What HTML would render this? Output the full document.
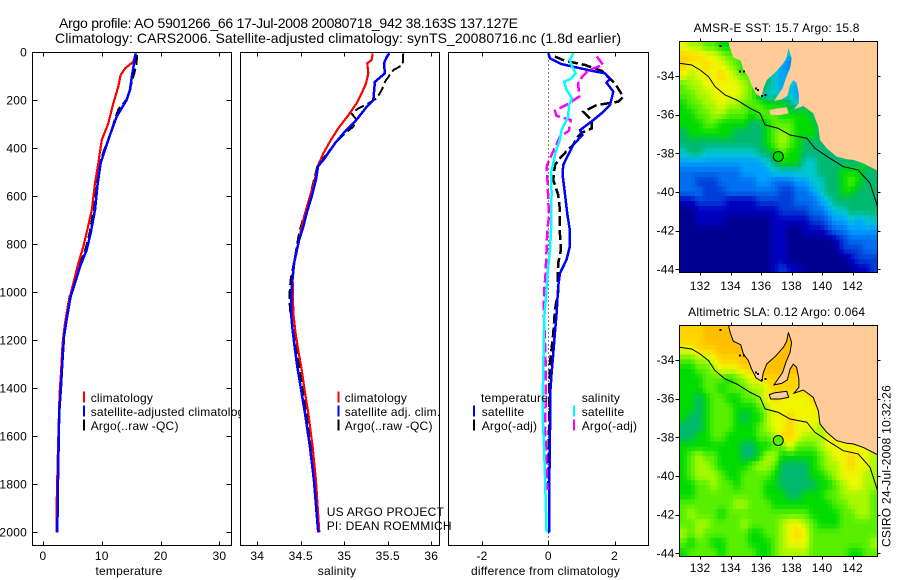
<!DOCTYPE html>
<html>
<head>
<meta charset="utf-8">
<title>Argo profile</title>
<style>
html,body{margin:0;padding:0;background:#fff;width:900px;height:580px;overflow:hidden}
svg{display:block;position:absolute;left:0;top:0}
text{font-family:"Liberation Sans",sans-serif;font-size:12px;fill:#000;letter-spacing:.22px}
.ax{stroke:#000;stroke-width:1;fill:none;shape-rendering:crispEdges}
.t{font-size:14px;letter-spacing:0}
</style>
</head>
<body>
<svg id="chart" width="900" height="580" viewBox="0 0 900 580">
<text class="t" x="59" y="28" textLength="459">Argo profile: AO 5901266_66 17-Jul-2008 20080718_942 38.163S 137.127E</text>
<text class="t" x="55" y="43" textLength="566">Climatology: CARS2006. Satellite-adjusted climatology: synTS_20080716.nc (1.8d earlier)</text>
<text x="0" y="0" transform="translate(890.5,547) rotate(-90)" textLength="162">CSIRO 24-Jul-2008 10:32:26</text>
</svg>
<script>
// ---------- profile data (depth in m) ----------
const depthTicks = [0,200,400,600,800,1000,1200,1400,1600,1800,2000];
const tempTicks = [0,10,20,30];
const salTicks = [34,34.5,35,35.5,36];
const diffTicks = [-2,0,2];

const tempClimDepth = [4,39,67,95,143,213,296,365,462,546,657,740,810,880,962,1046,1129,1212,1337,1393,1460,1700,1880,2000];
const tempClimValues = [15.76,15.36,13.95,13.2,12.8,11.96,11.1,10,9.4,8.84,8.3,7.54,6.86,6.01,5.16,4.31,3.74,3.34,3.06,2.89,2.78,2.5,2.33,2.33];
const tempSatDepth = [4,102,157,199,268,344,407,462,546,657,754,823,893,948,1018,1115,1184,1296,1393,1503,1643,1782,2000];
const tempSatValues = [15.76,15.1,14.8,14.2,12.53,11.4,10.54,9.8,9.3,8.84,8.1,7.43,6.29,5.61,4.7,4.02,3.57,3.29,3.06,2.75,2.65,2.55,2.44];
const tempArgoDepth = [11,53,143,196,236,265,344,407,462,546,657,754,823,893,948,1018,1115,1184,1296,1393,1503,1643,1782,1990];
const tempArgoValues = [16,15.9,14.9,14.25,12.85,12.4,11.4,10.4,9.6,9.1,8.6,7.9,7.2,6.1,5.4,4.5,3.85,3.45,3.2,2.95,2.7,2.55,2.5,2.4];

const salClimDepth = [4,32,46,88,130,171,213,261,317,372,421,470,532,601,671,726,782,851,948,1087,1171,1240,1323,1400,1504,1643,1782,2000];
const salClimValues = [35.326,35.314,35.264,35.276,35.249,35.2,35.14,35.05,34.93,34.835,34.76,34.7,34.66,34.605,34.55,34.51,34.48,34.433,34.406,34.414,34.44,34.47,34.51,34.54,34.586,34.636,34.674,34.713];
const salSatDepth = [4,18,46,88,123,199,227,289,330,379,449,473,532,601,671,726,782,879,976,1087,1157,1240,1309,1393,1504,1643,1782,2000];
const salSatValues = [35.517,35.49,35.456,35.467,35.352,35.333,35.257,35.123,35.008,34.893,34.759,34.7,34.674,34.625,34.567,34.53,34.48,34.422,34.395,34.387,34.406,34.433,34.46,34.498,34.548,34.605,34.651,34.7];
const salArgoDepth = [4,53,74,123,157,192,213,234,255,282,310,338,379,442,476,532,601,671,726,768,851,948,1018,1073,1157,1240,1323,1393,1504,1643,1782,1976];
const salArgoValues = [35.678,35.67,35.563,35.467,35.43,35.372,35.276,35.16,35.084,35.142,35.103,35.008,34.893,34.759,34.69,34.651,34.605,34.548,34.5,34.472,34.433,34.383,34.368,34.376,34.414,34.452,34.49,34.52,34.567,34.617,34.663,34.7];

const diffTempSatDepth = [4,25,49,60,77,88,109,127,164,220,248,282,324,345,386,428,470,511,588,671,740,809,865,921,976,1087,1171,1254,1337,1434,1573,1800,2000];
const diffTempSatValues = [0,0.05,0.4,0.75,1.31,1.71,1.86,1.76,1.96,1.86,1.66,1.36,0.96,1.03,0.75,0.6,0.45,0.43,0.5,0.57,0.65,0.65,0.55,0.35,0.3,0.25,0.2,0.15,0.1,0.05,0.05,0.03,0.03];
const diffTempArgoDepth = [18,35,53,77,129,185,206,220,248,282,317,335,358,386,404,442,470,532,594,657,706,754,823,879,934,997,1073,1171,1254,1296,1434,1573,1800];
const diffTempArgoValues = [0.2,0.5,1.11,1.61,2.01,2.26,2.11,1.46,1.06,1.31,1.31,1.01,0.85,0.75,0.6,0.35,0.2,0.15,0.3,0.35,0.35,0.35,0.38,0.3,0.28,0.3,0.2,0.15,0.08,0.05,0.02,0.02,0];
const diffSalSatDepth = [4,32,60,88,109,122,157,192,220,268,324,365,414,463,504,588,671,740,823,921,1018,1101,1212,1323,1434,1546,1643,1768,2000];
const diffSalSatValues = [0.75,0.65,0.72,0.82,0.7,0.48,0.55,0.72,0.62,0.6,0.4,0.35,0.22,0.15,0.08,0.1,0.08,0.08,0.05,-0.02,-0.07,-0.12,-0.14,-0.15,-0.17,-0.16,-0.13,-0.1,-0.05];
const diffSalArgoDepth = [18,53,74,122,185,215,243,265,282,327,352,421,476,546,685,740,823,921,990,1073,1212,1351,1462,1573,1643,1780,1823];
const diffSalArgoValues = [1.46,1.66,1.21,0.9,0.93,0.6,0.2,0.25,0.68,0.62,0.35,0.12,-0.05,-0.02,0.02,-0.03,-0.05,-0.08,-0.12,-0.14,-0.1,-0.07,-0.08,-0.1,-0.07,-0.04,-0.02];

// ---------- map data: colour level per 0.5 degree cell, rows north to south ----------
const mapLevels = ['#000090','#0000c0','#0040d8','#0070f0','#00a0ff','#00c8d0','#00b870','#00dc00','#58f000','#a8f800','#f0f800','#ffd400','#ffbe00'];
const sstGrid = [
[10,9,9,8,8,7,7,7,7,7,7,7,7,7,7,7,7,7,7,7,7,7,7,7,7,7],
[11,11,11,10,10,9,8,8,7,7,7,7,7,6,4,4,4,4,4,4,4,4,4,4,4,4],
[11,10,10,11,10,10,9,8,7,7,7,7,5,4,3,3,3,3,3,3,3,3,3,3,3,3],
[10,9,10,10,10,11,10,9,8,8,7,6,5,4,5,5,5,5,5,5,5,5,5,5,5,5],
[8,9,9,10,10,10,10,10,9,8,7,6,5,4,5,4,3,3,3,3,3,3,3,3,3,3],
[8,8,9,9,10,10,10,10,9,8,6,5,5,5,5,4,4,4,4,4,4,4,4,4,4,4],
[7,8,8,9,9,10,9,9,8,8,8,7,7,7,6,5,6,6,6,6,6,6,6,6,6,6],
[7,7,8,8,9,9,8,8,8,7,8,8,8,7,7,7,7,6,6,6,6,6,6,6,6,6],
[7,7,7,8,8,7,7,7,7,6,6,7,8,8,8,7,7,7,5,5,5,5,5,5,5,5],
[6,7,7,7,7,7,7,6,6,6,6,7,8,9,8,7,7,7,6,3,3,3,3,3,3,3],
[6,6,6,6,6,6,6,6,6,6,6,7,8,9,8,7,6,6,6,6,5,5,5,5,5,5],
[5,6,6,5,5,5,5,5,5,5,6,6,7,8,7,7,6,6,6,6,6,6,6,6,6,6],
[4,4,4,4,4,4,4,4,4,4,4,5,6,7,7,7,5,5,6,6,6,6,6,6,7,6],
[3,3,3,3,3,3,3,3,4,4,4,4,5,5,5,5,5,5,6,6,6,7,7,7,6,6],
[3,3,2,2,2,3,3,3,3,3,4,4,3,3,3,4,4,5,5,6,6,7,8,7,6,6],
[3,3,3,2,2,2,3,3,3,3,3,3,3,2,2,3,3,4,5,6,6,7,7,6,6,6],
[1,1,2,2,2,2,1,1,1,1,2,2,2,2,2,3,3,3,4,5,6,6,6,6,6,6],
[0,0,1,1,1,1,1,1,1,1,1,1,1,2,2,2,2,3,3,4,5,5,6,6,6,6],
[0,0,1,1,1,1,0,0,0,0,0,0,1,1,1,1,1,2,2,3,4,4,5,4,5,5],
[0,0,0,0,0,0,0,0,0,0,0,0,1,1,0,0,1,1,1,2,3,3,4,4,4,4],
[0,0,0,0,0,0,0,0,0,0,0,0,1,1,0,0,0,0,0,0,1,2,3,3,3,3],
[0,0,0,0,0,0,0,0,0,0,0,0,1,1,0,0,0,0,0,0,0,2,2,2,3,3],
[0,0,0,0,0,0,0,0,0,0,0,0,1,1,0,0,0,0,0,0,0,0,1,2,2,2],
[0,0,0,0,0,0,0,0,0,0,0,0,1,2,1,1,0,0,0,0,0,0,0,1,1,2]
];
const slaGrid = [
[11,11,11,12,12,12,12,11,11,11,11,11,11,11,11,11,11,11,11,11,11,11,11,11,11,11],
[11,11,11,12,12,12,12,12,12,12,12,12,12,12,12,12,12,12,12,12,12,12,12,12,12,12],
[10,10,11,11,11,12,12,12,12,11,11,12,12,12,12,12,12,12,12,12,12,12,12,12,12,12],
[8,8,9,9,10,11,11,11,12,12,11,11,12,12,12,12,12,12,12,12,12,12,12,12,12,12],
[7,7,8,8,9,10,10,10,11,11,11,12,12,12,12,12,12,12,12,12,12,12,12,12,12,12],
[7,7,7,8,8,8,7,8,9,10,10,11,11,11,11,11,11,11,11,11,11,11,11,11,11,11],
[7,7,7,8,8,7,8,8,8,9,9,10,11,11,11,11,11,11,11,11,11,11,11,11,11,11],
[7,7,6,7,8,8,7,7,8,8,9,10,11,10,10,10,10,11,11,11,11,11,11,11,11,11],
[7,7,6,7,8,8,8,7,7,7,8,9,10,10,10,10,10,10,11,10,10,10,10,10,10,10],
[7,6,6,7,8,8,8,7,6,7,7,9,10,10,11,10,10,10,10,10,10,10,10,10,10,10],
[6,6,6,7,8,8,8,7,7,7,8,9,10,10,11,10,10,10,9,10,10,10,10,10,10,10],
[6,6,7,7,8,8,7,7,7,7,8,8,9,11,11,10,9,9,9,10,10,10,10,10,10,10],
[7,7,7,7,7,7,7,7,6,6,7,7,8,8,10,8,8,8,9,10,10,10,10,10,10,10],
[7,8,9,8,8,7,7,7,6,6,7,9,9,7,7,7,7,7,8,9,10,10,11,10,10,9],
[7,8,9,9,8,7,7,7,7,8,9,9,8,6,6,6,6,7,8,9,9,10,11,10,10,9],
[7,8,9,9,9,8,7,7,8,8,8,8,7,6,6,6,6,7,7,8,9,10,10,10,9,9],
[7,7,8,8,9,8,8,7,8,8,8,7,7,6,6,6,6,6,7,7,8,9,10,10,9,9],
[7,7,8,8,8,8,8,8,8,8,8,7,7,7,6,6,7,7,7,8,8,9,9,9,9,8],
[8,8,8,8,8,8,8,9,9,8,8,8,7,7,7,7,7,7,7,7,8,8,9,9,9,8],
[8,9,8,8,8,7,8,8,8,8,8,8,8,8,8,8,8,7,7,7,7,8,8,9,9,8],
[8,8,9,9,8,8,8,8,9,8,8,8,8,9,10,10,9,8,7,7,7,8,8,8,8,8],
[9,8,9,8,8,8,8,8,8,7,7,8,8,9,10,11,10,8,8,8,8,8,8,8,8,8],
[8,7,8,8,7,7,8,8,8,7,7,7,8,9,10,10,10,8,8,8,8,8,8,8,8,9],
[7,8,8,8,8,7,8,8,8,8,7,7,8,9,9,9,9,8,8,8,8,8,7,7,8,8]
];
const coastLon = [133.86,133.97,134.18,134.66,134.84,135.17,135.38,135.67,136.04,136.15,136.37,136.98,137.46,137.68,137.79,138.0,137.9,137.63,137.41,136.85,137.35,137.72,137.90,138.11,138.33,138.48,138.48,138.16,138.77,139.42,139.75,139.86,140.30,140.95,141.61,142.04,142.70,143.64];
const coastLat = [-32.21,-32.57,-33.03,-33.21,-33.69,-34.03,-34.47,-34.93,-35.10,-34.64,-34.21,-33.78,-33.34,-33.03,-32.57,-33.09,-33.60,-34.12,-34.64,-35.29,-35.21,-35.03,-34.47,-34.21,-34.38,-34.98,-35.41,-35.72,-35.55,-35.93,-36.62,-37.31,-37.74,-38.17,-38.31,-38.34,-38.52,-38.90];
const islandLon = [136.54,136.91,137.68,137.81,137.24,136.63];
const islandLat = [-35.79,-35.69,-35.62,-35.93,-36.02,-36.02];
const shelfLon = [130.65,131.45,132,132.55,132.98,133.64,134.4,135.28,135.93,136.26,137.13,137.9,139,139.53,140.52,141.39,142.37,143.14,143.64];
const shelfLat = [-33.34,-33.43,-33.69,-34.03,-34.55,-34.98,-35.24,-35.67,-35.93,-36.53,-36.71,-37.05,-37.22,-37.74,-38.26,-38.69,-38.86,-39.55,-40.76];
const speckLon = [133.35,133.85,134.62,134.88,135.65,135.8,136.05,136.28];
const speckLat = [-32.44,-32.2,-33.78,-33.78,-34.64,-34.72,-35.03,-34.98];
const lonTicks = [132,134,136,138,140,142];
const latTicks = [-34,-36,-38,-40,-42,-44];
const floatLon = 137.127;
const floatLat = -38.163;

const NS = 'http://www.w3.org/2000/svg';
const svg = document.getElementById('chart');
function mk(tag, parent, attrs, txt){
  const e = document.createElementNS(NS, tag);
  for (const k in attrs) e.setAttribute(k, attrs[k]);
  if (txt !== undefined) e.textContent = txt;
  parent.appendChild(e);
  return e;
}
const TOP = 52.5, BOT = 545.5;
const yDepth = d => 52.3 + d * 0.24;

function drawPanel(name, left, right, xOf, ticks, fmt, title, withY){
  const g = mk('g', svg, {});
  
  
  const bg = mk('rect', g, {x:left, y:TOP, width:right-left, height:BOT-TOP, fill:'#fff'});
  
  
  ticks.forEach(v => {
    const x = Math.round(xOf(v)) + 0.5;
    const tk = mk('path', g, {class:'ax', d:`M${x} ${TOP}v4M${x} ${BOT}v-4`});
    
    
    const lb = mk('text', g, {x:xOf(v), y:560, 'text-anchor':'middle'}, fmt(v));
    
    
  });
  if (withY) depthTicks.forEach(d => {
    const y = Math.round(yDepth(d)) + 0.5;
    const tk = mk('path', g, {class:'ax', d:`M${left} ${y}h5M${right} ${y}h-5`});
    
    
    const lb = mk('text', g, {x:27, y:yDepth(d)+4, 'text-anchor':'end'}, String(d));
    
    
  });
  const xt = mk('text', g, {x:(left+right)/2 - 3, y:575, 'text-anchor':'middle'}, title);
  
  
  return g;
}
function frame(g, name, left, right){
  const f = mk('rect', g, {class:'ax', x:left, y:TOP, width:right-left, height:BOT-TOP});
  
  
}
function line(g, name, depth, values, xOf, color, w, dash){
  const pts = depth.map((d,i) => xOf(values[i]).toFixed(1) + ',' + yDepth(d).toFixed(1)).join(' ');
  const p = mk('polyline', g, {points:pts, fill:'none', stroke:color, 'stroke-width':w, 'shape-rendering':'crispEdges'});
  if (dash) p.setAttribute('stroke-dasharray', dash);
  
  
}
function legend(g, name, x, tx, y, color, label){
  const s = mk('rect', g, {x:x, y:y-9.5, width:2, height:11, fill:color, 'shape-rendering':'crispEdges'});
  
  
  const t = mk('text', g, {x:tx, y:y+1}, label);
  
  
}

// temperature panel
const xTemp = v => 43 + v * 5.88;
const g1 = drawPanel('temperature-panel', 32.5, 231.5, xTemp, tempTicks, String, 'temperature', true);
line(g1, 'temperature-argo-line', tempArgoDepth, tempArgoValues, xTemp, '#000', 2, '10 4');
line(g1, 'temperature-climatology-line', tempClimDepth, tempClimValues, xTemp, '#f00', 2.2);
line(g1, 'temperature-satellite-line', tempSatDepth, tempSatValues, xTemp, '#00f', 2.5);
legend(g1, 'legend-climatology', 83, 90.7, 401, '#f00', 'climatology');
legend(g1, 'legend-satellite-adjusted', 83, 90.7, 415, '#00f', 'satellite-adjusted climatology');
legend(g1, 'legend-argo', 83, 90.7, 429, '#000', 'Argo(..raw -QC)');
frame(g1, 'temperature-panel', 32.5, 231.5);

// salinity panel
const xSal = v => 257.3 + (v - 34) * 87;
const g2 = drawPanel('salinity-panel', 240.5, 439.5, xSal, salTicks, String, 'salinity', false);
line(g2, 'salinity-argo-line', salArgoDepth, salArgoValues, xSal, '#000', 2, '10 4');
line(g2, 'salinity-climatology-line', salClimDepth, salClimValues, xSal, '#f00', 2.2);
line(g2, 'salinity-satellite-line', salSatDepth, salSatValues, xSal, '#00f', 2.5);
legend(g2, 'legend-climatology-2', 337.5, 344.7, 401, '#f00', 'climatology');
legend(g2, 'legend-satellite-adj', 337.5, 344.7, 415, '#00f', 'satellite adj. clim.');
legend(g2, 'legend-argo-2', 337.5, 344.7, 429, '#000', 'Argo(..raw -QC)');
frame(g2, 'salinity-panel', 240.5, 439.5);

// difference panel
const xDiff = v => 548.3 + v * 33.15;
const g3 = drawPanel('difference-panel', 448.5, 648.5, xDiff, diffTicks, String, 'difference from climatology', false);
const zero = mk('line', g3, {x1:548.5, x2:548.5, y1:TOP, y2:BOT, stroke:'#000', 'stroke-width':1, 'stroke-dasharray':'1 3', 'shape-rendering':'crispEdges'});


line(g3, 'difference-temperature-argo-line', diffTempArgoDepth, diffTempArgoValues, xDiff, '#000', 2.5, '10 4');
line(g3, 'difference-temperature-satellite-line', diffTempSatDepth, diffTempSatValues, xDiff, '#00f', 2.5);
line(g3, 'difference-salinity-argo-line', diffSalArgoDepth, diffSalArgoValues, xDiff, '#f0f', 2.5, '10 4');
line(g3, 'difference-salinity-satellite-line', diffSalSatDepth, diffSalSatValues, xDiff, '#0ff', 2.5);
const hT = mk('text', g3, {x:481, y:402}, 'temperature');


const hS = mk('text', g3, {x:581.7, y:402}, 'salinity');


legend(g3, 'legend-temperature-satellite', 473, 481.7, 415, '#00f', 'satellite');
legend(g3, 'legend-temperature-argo', 473, 481.7, 429, '#000', 'Argo(-adj)');
legend(g3, 'legend-salinity-satellite', 573, 581.7, 415, '#0ff', 'satellite');
legend(g3, 'legend-salinity-argo', 573, 581.7, 429, '#f0f', 'Argo(-adj)');
frame(g3, 'difference-panel', 448.5, 648.5);

// PI note crosses into the third panel
const n1 = mk('text', svg, {x:326.7, y:516}, 'US ARGO PROJECT');


const n2 = mk('text', svg, {x:326.7, y:530}, 'PI: DEAN ROEMMICH');



// maps
const LEFT = 679.5, RIGHT = 877.5, LON0 = 130.65, PXLON = 15.25, PXLAT = 19.33;
const levelRgb = mapLevels.map(h => [1,3,5].map(i => parseInt(h.substr(i,2),16)));
function levelColor(v){
  const i = Math.max(0, Math.min(levelRgb.length - 2, Math.floor(v)));
  const f = Math.max(0, Math.min(1, v - i));
  const c = levelRgb[i].map((a,k) => Math.round(a + (levelRgb[i+1][k] - a) * f));
  return `rgb(${c[0]},${c[1]},${c[2]})`;
}
function gridAt(grid, fr, fc){
  const r0 = Math.max(0, Math.min(grid.length - 1, Math.floor(fr)));
  const c0 = Math.max(0, Math.min(grid[0].length - 1, Math.floor(fc)));
  const r1 = Math.min(grid.length - 1, r0 + 1), c1 = Math.min(grid[0].length - 1, c0 + 1);
  const tr = Math.max(0, fr - r0), tc = Math.max(0, fc - c0);
  return (grid[r0][c0]*(1-tc) + grid[r0][c1]*tc)*(1-tr) + (grid[r1][c0]*(1-tc) + grid[r1][c1]*tc)*tr;
}
function drawMap(name, grid, top, bottom, y34, title, titleY, labelY, outlined, argoLevel){
  const g = mk('g', svg, {});
  
  
  const cid = name + '-clip';
  const defs = mk('defs', g, {});
  const cp = mk('clipPath', defs, {id:cid});
  mk('rect', cp, {x:LEFT, y:top, width:RIGHT-LEFT, height:bottom-top});
  const px = lon => LEFT + (lon - LON0) * PXLON;
  const py = lat => y34 + (-34 - lat) * PXLAT;
  const body = mk('g', g, {'clip-path':`url(#${cid})`});
  const latTop = -34 + (y34 - top) / PXLAT;
  const SUB = 2;
  for (let r = 0; r < grid.length * SUB; r++) for (let c = 0; c < grid[0].length * SUB; c++) {
    const v = gridAt(grid, (r + 0.5) / SUB - 0.5, (c + 0.5) / SUB - 0.5);
    const cell = mk('rect', body, {
      x:px(LON0 + c * 0.5 / SUB), y:py(latTop - r * 0.5 / SUB),
      width:0.5 / SUB * PXLON + 0.5, height:0.5 / SUB * PXLAT + 0.5,
      fill:levelColor(v), 'shape-rendering':'crispEdges'});
    
    
  }
  const outline = outlined ? {stroke:'#000','stroke-width':1} : {};
  const landPts = coastLon.map((lo,i) => px(lo).toFixed(1) + ',' + py(coastLat[i]).toFixed(1));
  landPts.push(px(144) + ',' + py(coastLat[coastLat.length-1]), px(144) + ',' + (top-5), px(coastLon[0]) + ',' + (top-5));
  const land = mk('polygon', body, Object.assign({points:landPts.join(' '), fill:'#ffcc99'}, outline));
  
  
  const isl = mk('polygon', body, Object.assign({points:islandLon.map((lo,i) => px(lo).toFixed(1) + ',' + py(islandLat[i]).toFixed(1)).join(' '), fill:'#ffcc99'}, outline));
  
  
  speckLon.forEach((lo,i) => {
    const sp = mk('rect', body, {x:px(lo)-1, y:py(speckLat[i])-1, width:2, height:2, fill:'#000', 'shape-rendering':'crispEdges'});
    
    
  });
  const shelf = mk('polyline', body, {points:shelfLon.map((lo,i) => px(lo).toFixed(1) + ',' + py(shelfLat[i]).toFixed(1)).join(' '), fill:'none', stroke:'#000', 'stroke-width':1});
  
  
  const mark = mk('circle', body, {cx:px(floatLon), cy:py(floatLat), r:5, fill:levelColor(argoLevel), stroke:'#000', 'stroke-width':1});
  
  
  const fr = mk('rect', g, {class:'ax', x:LEFT, y:top, width:RIGHT-LEFT, height:bottom-top});
  
  
  lonTicks.forEach(lo => {
    const x = Math.round(px(lo)) + 0.5;
    const tk = mk('path', g, {class:'ax', d:`M${x} ${top}v-3M${x} ${bottom}v3`});
    
    
    const lb = mk('text', g, {x:px(lo), y:labelY, 'text-anchor':'middle'}, String(lo));
    
    
  });
  latTicks.forEach(la => {
    const y = Math.round(py(la)) + 0.5;
    const tk = mk('path', g, {class:'ax', d:`M${LEFT} ${y}h-4M${RIGHT} ${y}h3`});
    
    
    const lb = mk('text', g, {x:674.5, y:py(la)+4, 'text-anchor':'end'}, String(la));
    
    
  });
  const tt = mk('text', g, {x:776.7, y:titleY, 'text-anchor':'middle'}, title);
  
  
}
drawMap('sst-map', sstGrid, 41.5, 272.5, 76, 'AMSR-E SST: 15.7 Argo: 15.8', 32, 290, false, 7);
drawMap('sla-map', slaGrid, 325.5, 556.5, 360, 'Altimetric SLA: 0.12 Argo: 0.064', 316, 572, true, 8);
</script>
</body>
</html>
